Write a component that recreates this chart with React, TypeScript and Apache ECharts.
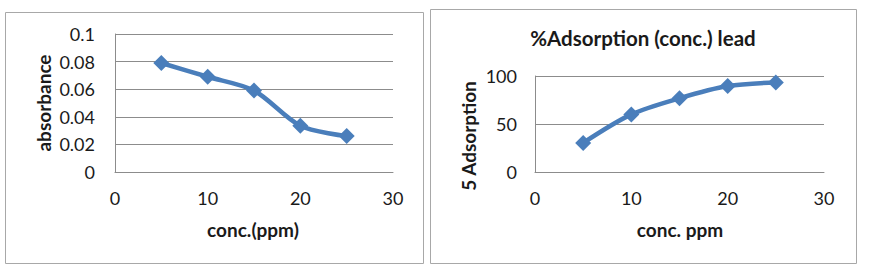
import React, { useEffect, useRef } from "react";
import * as echarts from "echarts";

const concLeft = [5, 10, 15, 20, 25];
const absorbance = [0.079, 0.069, 0.059, 0.0335, 0.026];
const concRight = [5, 10, 15, 20, 25];
const adsorption = [30.3, 60, 76.8, 89.5, 93.3];

const FONT = "Lato";
const BLUE = "#4a7ebb";
const GRID_COLOR = "#8c8c8c";
const BORDER = "#a8a8a8";
const TEXT = "#1a1a1a";

export default function App() {
  const ref = useRef<HTMLDivElement>(null);
  useEffect(() => {
    if (!ref.current) return;
    const chart = echarts.init(ref.current, null, { renderer: "svg" });
    const axisLabel = { color: TEXT, fontFamily: FONT, fontSize: 18 };
    const xAxisBase = {
      type: "value",
      min: 0,
      max: 30,
      interval: 10,
      axisLine: { show: true, lineStyle: { color: GRID_COLOR, width: 1 } },
      axisTick: { show: false },
      splitLine: { show: false },
      axisLabel: { ...axisLabel, margin: 17 },
    };
    const seriesBase = {
      type: "line",
      smooth: 0.3,
      symbol: "diamond",
      symbolSize: 16,
      lineStyle: { color: BLUE, width: 4.5 },
      itemStyle: { color: BLUE },
      z: 5,
    };
    const bold = (text: string, x: number, y: number, size: number, rot = 0) => ({
      type: "text",
      x,
      y,
      rotation: rot,
      style: {
        text,
        fontFamily: FONT,
        fontWeight: "bold",
        fontSize: size,
        fill: TEXT,
        align: "center",
        verticalAlign: "middle",
      },
    });
    chart.setOption({
      animation: false,
      backgroundColor: "#fff",
      grid: [
        { left: 115, top: 34, width: 278, height: 138 },
        { left: 535, top: 76, width: 289, height: 96 },
      ],
      xAxis: [
        { ...xAxisBase, gridIndex: 0 },
        { ...xAxisBase, gridIndex: 1 },
      ],
      yAxis: [
        {
          type: "value",
          gridIndex: 0,
          min: 0,
          max: 0.1,
          interval: 0.02,
          axisLine: { show: true, lineStyle: { color: GRID_COLOR, width: 1 } },
          axisTick: { show: false },
          splitLine: { show: true, lineStyle: { color: GRID_COLOR, width: 1 } },
          axisLabel: { ...axisLabel, margin: 20 },
        },
        {
          type: "value",
          gridIndex: 1,
          min: 0,
          max: 100,
          interval: 50,
          axisLine: { show: true, lineStyle: { color: GRID_COLOR, width: 1 } },
          axisTick: { show: false },
          splitLine: { show: true, lineStyle: { color: GRID_COLOR, width: 1 } },
          axisLabel: { ...axisLabel, margin: 18 },
        },
      ],
      series: [
        {
          ...seriesBase,
          xAxisIndex: 0,
          yAxisIndex: 0,
          data: concLeft.map((c, i) => [c, absorbance[i]]),
        },
        {
          ...seriesBase,
          xAxisIndex: 1,
          yAxisIndex: 1,
          data: concRight.map((c, i) => [c, adsorption[i]]),
        },
      ],
      graphic: [
        {
          type: "rect",
          shape: { x: 5.5, y: 12.5, width: 418, height: 251 },
          style: { fill: "none", stroke: BORDER, lineWidth: 1 },
          z: -1,
        },
        {
          type: "rect",
          shape: { x: 430.5, y: 9.5, width: 426, height: 254 },
          style: { fill: "none", stroke: BORDER, lineWidth: 1 },
          z: -1,
        },
        bold("absorbance", 43, 103, 19, Math.PI / 2),
        bold("conc.(ppm)", 253, 229, 19),
        bold("%Adsorption (conc.) lead", 643, 38, 20.5),
        bold("5 Adsorption", 468, 136, 19, Math.PI / 2),
        bold("conc. ppm", 680, 229, 19),
      ],
    });
    return () => chart.dispose();
  }, []);
  return (
    <div
      ref={ref}
      style={{ position: "fixed", left: 0, top: 0, width: 879, height: 268 }}
    />
  );
}
